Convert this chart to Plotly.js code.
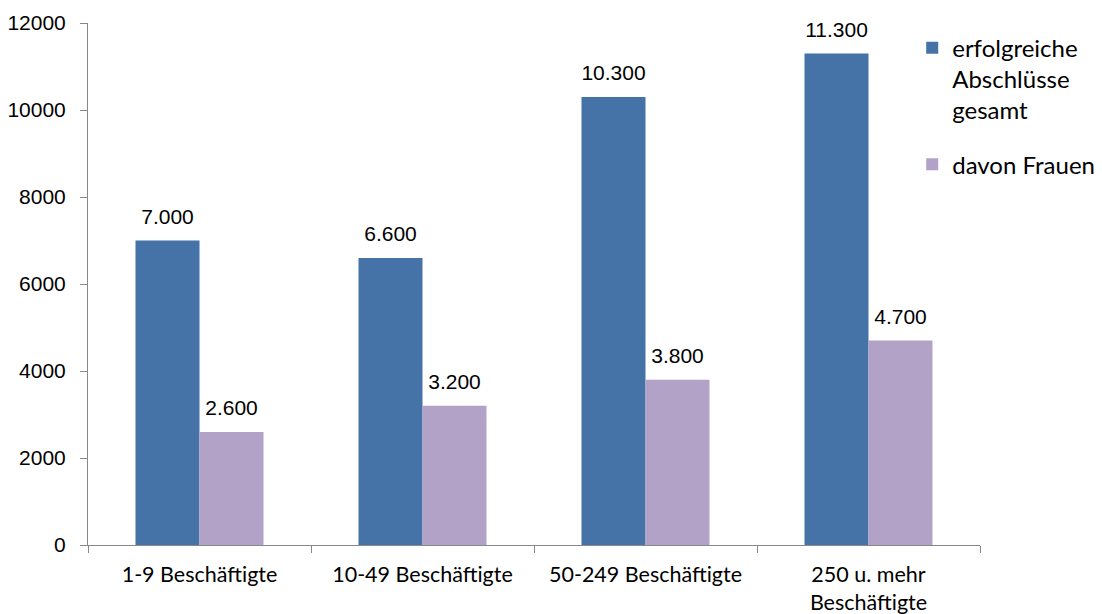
<!DOCTYPE html>
<html>
<head>
<meta charset="utf-8">
<script src="https://cdn.plot.ly/plotly-3.0.1.min.js"></script>
<style>
  html, body { margin: 0; padding: 0; background: #fff; }
  #chart { width: 1102px; height: 614px; }
</style>
</head>
<body>
<div id="chart"></div>
<script>
// Betriebsgrößenklassen
const categories = [
  '1-9 Beschäftigte',
  '10-49 Beschäftigte',
  '50-249 Beschäftigte',
  '250 u. mehr<br>Beschäftigte'
];
// erfolgreiche Abschlüsse gesamt
const totalValues = [7000, 6600, 10300, 11300];
// davon Frauen
const womenValues = [2600, 3200, 3800, 4700];
const seriesNames = ['erfolgreiche<br>Abschlüsse<br>gesamt', 'davon Frauen'];
const seriesColors = ['#4573A7', '#B2A2C7'];
const yTicks = [0, 2000, 4000, 6000, 8000, 10000, 12000];

const labelFont = { family: 'Liberation Sans, Arial, sans-serif', size: 21, color: '#000' };
const textFont = { family: 'Lato, Open Sans, sans-serif', size: 21.5, color: '#000' };

const series = [totalValues, womenValues];
const traces = [];
// bars
series.forEach((vals, i) => {
  traces.push({
    type: 'bar', name: seriesNames[i], x: categories, y: vals,
    offsetgroup: 'g' + i, legendgroup: 'g' + i,
    marker: { color: seriesColors[i] }, hoverinfo: 'skip'
  });
});
// value labels above the bars, grouped the same way
series.forEach((vals, i) => {
  traces.push({
    type: 'scatter', mode: 'markers+text', x: categories, y: vals,
    offsetgroup: 'g' + i, legendgroup: 'g' + i, showlegend: false,
    marker: { size: 17, color: 'rgba(0,0,0,0)' },
    texttemplate: '%{y:,}', textposition: 'top center',
    textfont: labelFont, cliponaxis: false, hoverinfo: 'skip'
  });
});

const layout = {
  width: 1102, height: 614,
  margin: { l: 88, r: 122, t: 23, b: 69, autoexpand: false },
  paper_bgcolor: '#fff', plot_bgcolor: '#fff',
  separators: ',.',
  barmode: 'group', bargap: 0.426, bargroupgap: 0,
  scattermode: 'group', scattergap: 0.426,
  showlegend: true,
  legend: {
    x: 0.924, xanchor: 'left', y: 0.995, yanchor: 'top',
    valign: 'top',
    font: { family: 'Lato, Open Sans, sans-serif', size: 24, color: '#000' },
    tracegroupgap: 20, itemwidth: 30, bgcolor: 'rgba(0,0,0,0)'
  },
  xaxis: {
    type: 'category', tickson: 'boundaries',
    ticks: 'outside', ticklen: 7, tickcolor: '#888', tickwidth: 1,
    showline: true, linecolor: '#888', linewidth: 1,
    showgrid: false, tickfont: textFont, ticklabelstandoff: 10,
    automargin: false
  },
  yaxis: {
    range: [0, 12000], tickvals: yTicks, tickformat: 'd',
    ticks: 'outside', ticklen: 7, tickcolor: '#888', tickwidth: 1,
    showline: true, linecolor: '#888', linewidth: 1,
    showgrid: false, zeroline: false, tickfont: labelFont,
    ticklabelstandoff: 10, automargin: false
  }
};

Plotly.newPlot('chart', traces, layout, { displayModeBar: false, staticPlot: true });
</script>
</body>
</html>
